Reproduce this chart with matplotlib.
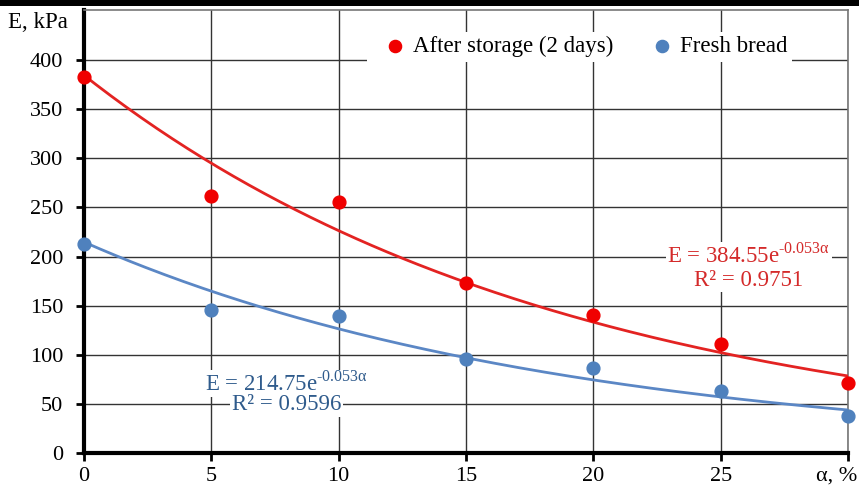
import numpy as np
import matplotlib
matplotlib.use("Agg")
import matplotlib.pyplot as plt
from matplotlib.patches import Rectangle
from matplotlib.transforms import ScaledTranslation

plt.rcParams['font.family'] = ['Liberation Serif', 'DejaVu Serif']
plt.rcParams['mathtext.fontset'] = 'custom'
plt.rcParams['mathtext.rm'] = 'Liberation Serif'

# data
alpha = [0, 5, 10, 15, 20, 25, 30]
stored = [383, 262, 256, 173, 141, 111, 71]
fresh = [213, 146, 139, 96, 87, 63, 38]

x_ticks = [0, 5, 10, 15, 20, 25, 30]
x_labels = ['0', '5', '10', '15', '20', '25', 'α, %']
y_ticks = [0, 50, 100, 150, 200, 250, 300, 350, 400]

red_line = '#E32322'
red_dot = '#F00000'
red_text = '#D42A2A'
blue_line = '#5B87C5'
blue_dot = '#4F81BD'
blue_text = '#2F5B8C'

fig = plt.figure(figsize=(8.59, 4.90), dpi=100)
ax = fig.add_axes([84 / 859, 37 / 490, 764 / 859, 443 / 490])

# black border strip at the very top of the picture
fig.patches.append(Rectangle((0, 1 - 6 / 490), 1, 6 / 490, transform=fig.transFigure,
                             facecolor='black', edgecolor='none'))

# exponential trend lines with the coefficients shown on the chart
xs = np.linspace(0, 30, 200)
ax.plot(xs, 384.55 * np.exp(-0.053 * xs), color=red_line, lw=2, zorder=3)
ax.plot(xs, 214.75 * np.exp(-0.053 * xs), color=blue_line, lw=2, zorder=3)

ax.scatter(alpha, stored, s=85, color=red_dot, zorder=4, clip_on=False,
           label='After storage (2 days)')
ax.scatter(alpha, fresh, s=85, color=blue_dot, zorder=4, clip_on=False,
           label='Fresh bread')

ax.set_xlim(0, 30)
ax.set_ylim(0, 451)
ax.set_xticks(x_ticks)
ax.set_xticklabels(x_labels)
ax.set_yticks(y_ticks)
ax.tick_params(labelsize=16, length=6, width=2, direction='out')
ax.tick_params(axis='y', pad=9)
ax.tick_params(axis='x', pad=4)
ax.grid(True, color='#333333', lw=1)
ax.set_axisbelow(True)
for s in ['top', 'right']:
    ax.spines[s].set_color('#777777')
    ax.spines[s].set_linewidth(1.2)
for s in ['left', 'bottom']:
    ax.spines[s].set_linewidth(3)

# keep the axis name under the last tick inside the picture
last = ax.get_xticklabels()[-1]
last.set_horizontalalignment('right')
last.set_transform(last.get_transform() + ScaledTranslation(7 / 72, 0, fig.dpi_scale_trans))

fig.text(8 / 859, 1 - 22 / 490, 'E, kPa', fontsize=16.5, va='center', ha='left')

leg = ax.legend(loc='center', bbox_to_anchor=(0.649, 0.917), ncol=2,
                frameon=True, fontsize=16.5, handletextpad=-0.2, columnspacing=1.1,
                borderpad=0.2, scatterpoints=1, markerscale=0.95)
leg.get_frame().set_edgecolor('none')
leg.get_frame().set_facecolor('white')
leg.get_frame().set_alpha(1)
leg.get_frame().set_boxstyle('square', pad=0)
leg.set_zorder(5)

box = dict(facecolor='white', edgecolor='none', pad=1)
ax.text(26.1, 201, r'E = 384.55e$^{\text{-0.053α}}$', color=red_text,
        fontsize=16.5, ha='center', va='center', bbox=box, zorder=5)
ax.text(26.1, 176, 'R² = 0.9751', color=red_text,
        fontsize=16.5, ha='center', va='center', bbox=box, zorder=5)
ax.text(7.95, 71, r'E = 214.75e$^{\text{-0.053α}}$', color=blue_text,
        fontsize=16.5, ha='center', va='center', bbox=box, zorder=5)
ax.text(7.95, 49, 'R² = 0.9596', color=blue_text,
        fontsize=16.5, ha='center', va='center', bbox=box, zorder=5)

fig.savefig('out.png', dpi=100)
